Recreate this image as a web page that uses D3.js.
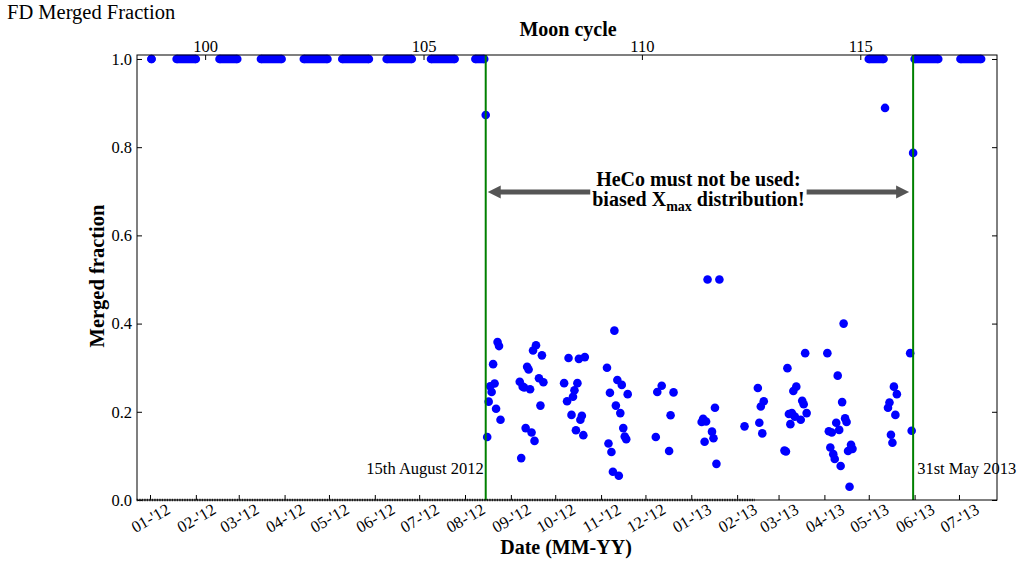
<!DOCTYPE html>
<html>
<head>
<meta charset="utf-8">
<script src="https://cdn.jsdelivr.net/npm/d3@7"></script>
<style>
body { margin: 0; background: #fff; }
svg { font-family: "Liberation Serif", "Times New Roman", serif; }
</style>
</head>
<body>
<div id="chart"></div>
<script>

// Nights after the cut: date and merged fraction
var scatterDates = [
    "2012-08-15","2012-08-16","2012-08-17","2012-08-18","2012-08-19","2012-08-20","2012-08-21","2012-08-22","2012-08-23","2012-08-24","2012-08-25",
    "2012-09-07","2012-09-08","2012-09-09","2012-09-10","2012-09-11","2012-09-12","2012-09-13","2012-09-14","2012-09-15","2012-09-16","2012-09-17","2012-09-18","2012-09-20","2012-09-21","2012-09-22","2012-09-23",
    "2012-10-07","2012-10-09","2012-10-10","2012-10-12","2012-10-13","2012-10-14","2012-10-15","2012-10-16","2012-10-17","2012-10-18","2012-10-19","2012-10-20","2012-10-21",
    "2012-11-05","2012-11-06","2012-11-07","2012-11-08","2012-11-09","2012-11-10","2012-11-11","2012-11-12","2012-11-13","2012-11-14","2012-11-15","2012-11-16","2012-11-17","2012-11-18","2012-11-19",
    "2012-12-08","2012-12-09","2012-12-12","2012-12-17","2012-12-18","2012-12-20",
    "2013-01-08","2013-01-09","2013-01-10","2013-01-11","2013-01-12","2013-01-15","2013-01-16","2013-01-17","2013-01-18","2013-01-20",
    "2013-02-06","2013-02-15","2013-02-16","2013-02-17","2013-02-18","2013-02-19",
    "2013-03-05","2013-03-06","2013-03-07","2013-03-08","2013-03-09","2013-03-10","2013-03-11","2013-03-12","2013-03-13","2013-03-16","2013-03-17","2013-03-18","2013-03-19","2013-03-20",
    "2013-04-03","2013-04-04","2013-04-05","2013-04-06","2013-04-07","2013-04-08","2013-04-09","2013-04-10","2013-04-11","2013-04-12","2013-04-13","2013-04-14","2013-04-15","2013-04-16","2013-04-17","2013-04-18","2013-04-19","2013-04-20",
    "2013-05-12","2013-05-14","2013-05-15","2013-05-16","2013-05-17","2013-05-18","2013-05-19","2013-05-20","2013-05-29","2013-05-30","2013-05-31"
];
var scatterValues = [
    0.873,0.143,0.223,0.258,0.245,0.308,0.264,0.207,0.358,0.349,0.182,
    0.268,0.095,0.257,0.255,0.163,0.302,0.296,0.251,0.153,0.339,0.134,0.351,0.276,0.214,0.328,0.267,
    0.265,0.224,0.322,0.193,0.234,0.249,0.158,0.265,0.320,0.182,0.191,0.147,0.324,
    0.300,0.128,0.243,0.109,0.064,0.384,0.214,0.272,0.055,0.197,0.261,0.163,0.144,0.138,0.240,
    0.143,0.245,0.259,0.111,0.192,0.244,
    0.177,0.184,0.132,0.178,0.500,0.155,0.140,0.209,0.082,0.500,
    0.167,0.254,0.175,0.212,0.151,0.224,
    0.112,0.110,0.299,0.195,0.172,0.197,0.247,0.189,0.257,0.182,0.225,0.217,0.333,0.197,
    0.333,0.156,0.119,0.153,0.104,0.093,0.175,0.282,0.159,0.077,0.222,0.400,0.185,0.177,0.111,0.030,0.125,0.116,
    0.889,0.209,0.221,0.148,0.130,0.257,0.193,0.240,0.333,0.157,0.787
];

// Periods of consecutive nights with merged fraction 1.0
var fullStart = ["2012-01-02","2012-01-19","2012-02-17","2012-03-16","2012-04-14","2012-05-10","2012-06-09","2012-07-09","2012-08-08","2013-05-01","2013-06-01","2013-07-02"];
var fullEnd   = ["2012-01-02","2012-02-01","2012-02-29","2012-03-30","2012-04-30","2012-05-28","2012-06-26","2012-07-25","2012-08-14","2013-05-11","2013-06-17","2013-07-16"];

// Nights with merged fraction 0.0
var zeroStart = "2011-12-23", zeroEnd = "2013-02-13";

var cutDates = ["2012-08-15", "2013-05-31"];
var cutLabels = ["15th August 2012", "31st May 2013"];

var moonTicks = [100, 105, 110, 115];
var yTicks = [0, 0.2, 0.4, 0.6, 0.8, 1.0];


MergedChart = function(_parentElement){
    this.parentElement = _parentElement;
    this.initVis();
}

MergedChart.prototype.initVis = function(){
    var vis = this;
    var parse = d3.utcParse("%Y-%m-%d");

    vis.margin = { top: 55, right: 22, bottom: 63, left: 137 };
    vis.width = 1019 - vis.margin.left - vis.margin.right;
    vis.height = 563 - vis.margin.top - vis.margin.bottom;

    vis.svg = d3.select("#" + vis.parentElement).append("svg")
        .attr("width", 1019)
        .attr("height", 563);

    vis.svg.append("text")
        .attr("x", 7)
        .attr("y", 19)
        .attr("font-size", "20.5px")
        .text("FD Merged Fraction");

    vis.g = vis.svg.append("g")
        .attr("transform", "translate(" + vis.margin.left + "," + vis.margin.top + ")");

    // Scales
    vis.x = d3.scaleUtc()
        .domain([new Date(Date.UTC(2011, 11, 23, 5)), new Date(Date.UTC(2013, 6, 26, 17))])
        .range([0, vis.width]);

    vis.moon = d3.scaleLinear()
        .domain([98.44, 118.13])
        .range([0, vis.width]);

    vis.y = d3.scaleLinear()
        .domain([0, 1.009])
        .range([vis.height, 0]);

    // Axes
    vis.g.append("g")
        .attr("class", "y-axis")
        .call(d3.axisLeft(vis.y).tickValues(yTicks).tickSize(-5).tickPadding(5).tickFormat(d3.format(".1f")))
        .call(g => g.select(".domain").remove())
        .attr("font-size", "16.5px")
        .attr("font-family", "Liberation Serif");

    vis.g.append("g")
        .attr("transform", "translate(" + vis.width + ",0)")
        .call(d3.axisRight(vis.y).tickValues(yTicks).tickSize(-5).tickFormat(""))
        .call(g => g.select(".domain").remove());

    vis.g.append("g")
        .call(d3.axisTop(vis.moon).tickValues(moonTicks).tickSize(-5).tickPadding(3))
        .call(g => g.select(".domain").remove())
        .attr("font-size", "16.5px")
        .attr("font-family", "Liberation Serif");

    vis.xAxis = vis.g.append("g")
        .attr("transform", "translate(0," + vis.height + ")")
        .call(d3.axisBottom(vis.x).ticks(d3.utcMonth.every(1)).tickSize(-5).tickFormat(d3.utcFormat("%m-'%y")))
        .call(g => g.select(".domain").remove())
        .attr("font-size", "16.5px")
        .attr("font-family", "Liberation Serif");

    vis.xAxis.selectAll("text")
        .attr("y", 0)
        .attr("dy", "0.35em")
        .attr("text-anchor", "middle")
        .attr("transform", "translate(0,18) rotate(-30)");

    // Axis titles
    vis.svg.append("text")
        .attr("x", vis.margin.left + vis.width / 2 + 1)
        .attr("y", 36)
        .attr("text-anchor", "middle")
        .attr("font-weight", "bold")
        .attr("font-size", "20px")
        .text("Moon cycle");

    vis.svg.append("text")
        .attr("x", vis.margin.left + vis.width / 2 - 1)
        .attr("y", 554)
        .attr("text-anchor", "middle")
        .attr("font-weight", "bold")
        .attr("font-size", "20px")
        .text("Date (MM-YY)");

    vis.svg.append("text")
        .attr("transform", "translate(104,276) rotate(-90)")
        .attr("text-anchor", "middle")
        .attr("font-weight", "bold")
        .attr("font-size", "20.5px")
        .text("Merged fraction");

    // Zero-fraction nights
    vis.g.append("line")
        .attr("x1", vis.x(parse(zeroStart)))
        .attr("x2", vis.x(parse(zeroEnd)))
        .attr("y1", vis.y(0))
        .attr("y2", vis.y(0))
        .attr("stroke", "#333")
        .attr("stroke-width", 2.5)
        .attr("stroke-dasharray", "1.5,1");

    // Fully merged periods
    var periods = fullStart.map((s, i) => ({ s: parse(s), e: parse(fullEnd[i]) }));
    var r = 4.3;

    vis.g.selectAll(".full-line")
        .data(periods)
        .enter()
        .append("line")
        .attr("class", "full-line")
        .attr("x1", d => vis.x(d.s))
        .attr("x2", d => vis.x(d.e))
        .attr("y1", vis.y(1))
        .attr("y2", vis.y(1))
        .attr("stroke", "#0000ff")
        .attr("stroke-width", 2 * r);

    vis.g.selectAll(".full-end")
        .data(periods.flatMap(d => [d.s, d.e]))
        .enter()
        .append("circle")
        .attr("class", "full-end")
        .attr("cx", d => vis.x(d))
        .attr("cy", vis.y(1))
        .attr("r", r)
        .attr("fill", "#0000ff");

    // Night points
    vis.g.selectAll(".night")
        .data(scatterValues)
        .enter()
        .append("circle")
        .attr("class", "night")
        .attr("cx", (d, i) => vis.x(parse(scatterDates[i])))
        .attr("cy", d => vis.y(d))
        .attr("r", r)
        .attr("fill", "#0000ff");

    // Cut lines
    vis.g.selectAll(".cut")
        .data(cutDates)
        .enter()
        .append("line")
        .attr("class", "cut")
        .attr("x1", d => vis.x(parse(d)))
        .attr("x2", d => vis.x(parse(d)))
        .attr("y1", 0)
        .attr("y2", vis.height)
        .attr("stroke", "#008000")
        .attr("stroke-width", 2);

    vis.g.selectAll(".cut-label")
        .data(cutDates)
        .enter()
        .append("text")
        .attr("class", "cut-label")
        .attr("x", (d, i) => vis.x(parse(d)) + (i == 0 ? -2 : 4))
        .attr("y", vis.height - 26)
        .attr("text-anchor", (d, i) => i == 0 ? "end" : "start")
        .attr("font-size", "16.5px")
        .text((d, i) => cutLabels[i]);

    // Double arrow annotation
    var xa = vis.x(parse(cutDates[0])) + 2,
        xb = vis.x(parse(cutDates[1])) - 4,
        ya = 137;

    vis.g.append("line")
        .attr("x1", xa + 8).attr("x2", xb - 8)
        .attr("y1", ya).attr("y2", ya)
        .attr("stroke", "#555")
        .attr("stroke-width", 5);

    vis.g.append("path")
        .attr("d", "M" + xa + "," + ya + "L" + (xa + 13) + "," + (ya - 6.5) + "L" + (xa + 13) + "," + (ya + 6.5) + "Z"
            + "M" + xb + "," + ya + "L" + (xb - 13) + "," + (ya - 6.5) + "L" + (xb - 13) + "," + (ya + 6.5) + "Z")
        .attr("fill", "#555");

    var note = vis.g.append("g");
    var noteBg = note.append("rect").attr("fill", "#fff");
    var cx = (xa + xb) / 2;

    var t1 = note.append("text")
        .attr("x", cx)
        .attr("y", ya - 6)
        .attr("text-anchor", "middle")
        .attr("font-weight", "bold")
        .attr("font-size", "20px")
        .text("HeCo must not be used:");

    var t2 = note.append("text")
        .attr("x", cx)
        .attr("y", ya + 14)
        .attr("text-anchor", "middle")
        .attr("font-weight", "bold")
        .attr("font-size", "20px");
    t2.append("tspan").text("biased X");
    t2.append("tspan").attr("font-size", "14px").attr("dy", 5).text("max");
    t2.append("tspan").attr("dy", -5).text(" distribution!");

    var bb = note.node().getBBox();
    noteBg.attr("x", bb.x - 2).attr("y", bb.y).attr("width", bb.width + 4).attr("height", bb.height);

    // Frame
    vis.g.append("rect")
        .attr("width", vis.width)
        .attr("height", vis.height)
        .attr("fill", "none")
        .attr("stroke", "#000")
        .attr("stroke-width", 1);
}

new MergedChart("chart");

</script>
</body>
</html>
